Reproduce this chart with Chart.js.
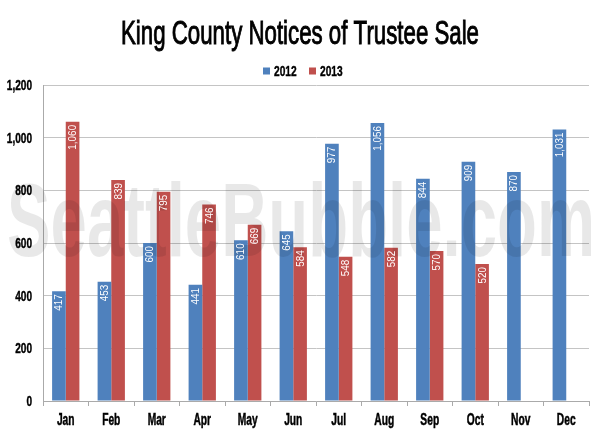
<!DOCTYPE html>
<html>
<head>
<meta charset="utf-8">
<script src="https://cdn.jsdelivr.net/npm/chart.js@4"></script>
<style>
  html, body { margin: 0; padding: 0; background: #fff; }
  #wrap { width: 600px; height: 436px; }
</style>
</head>
<body>
<div id="wrap"><canvas id="chart" width="600" height="436"></canvas></div>
<script>
// Chart data
const months = ['Jan', 'Feb', 'Mar', 'Apr', 'May', 'Jun', 'Jul', 'Aug', 'Sep', 'Oct', 'Nov', 'Dec'];
const seriesNames = ['2012', '2013'];
const values2012 = [417, 453, 600, 441, 610, 645, 977, 1056, 844, 909, 870, 1031];
const values2013 = [1060, 839, 795, 746, 669, 584, 548, 582, 570, 520, null, null];
const yTicks = [0, 200, 400, 600, 800, 1000, 1200];
const colors = ['#4f81bd', '#c0504d'];

const FONT = '"Liberation Sans", Arial, sans-serif';

// Draw text squeezed horizontally to mimic a condensed face
function condensedText(ctx, text, x, y, sx, align, stroke) {
    const w = ctx.measureText(text).width * sx;
    let left = x;
    if (align === 'center') left = x - w / 2;
    if (align === 'right') left = x - w;
    ctx.save();
    ctx.translate(left, y);
    ctx.scale(sx, 1);
    ctx.textAlign = 'left';
    ctx.fillText(text, 0, 0);
    if (stroke) {
        ctx.strokeStyle = ctx.fillStyle;
        ctx.lineWidth = stroke;
        ctx.strokeText(text, 0, 0);
    }
    ctx.restore();
}

// Title, legend and axis labels
const labelsPlugin = {
    id: 'labelsPlugin',
    afterDraw(chart) {
        const ctx = chart.ctx;
        const xs = chart.scales.x, ys = chart.scales.y;
        ctx.save();
        ctx.fillStyle = '#000';
        ctx.textBaseline = 'alphabetic';

        // title
        ctx.font = '34px ' + FONT;
        const title = 'King County Notices of Trustee Sale';
        const tw = ctx.measureText(title).width;
        condensedText(ctx, title, 300, 44, 358 / tw, 'center', 1);

        // legend
        ctx.font = 'bold 15px ' + FONT;
        const legendX = [263, 309];
        seriesNames.forEach((name, i) => {
            ctx.fillStyle = colors[i];
            ctx.fillRect(legendX[i], 67.5, 7, 7);
            ctx.fillStyle = '#000';
            condensedText(ctx, name, legendX[i] + 11, 76, 0.68, 'left', 0.4);
        });

        // y tick labels
        ctx.font = 'bold 14px ' + FONT;
        yTicks.forEach(v => {
            condensedText(ctx, v.toLocaleString('en-US'), 32, ys.getPixelForValue(v) + 5, 0.72, 'right', 0.4);
        });

        // x tick labels
        ctx.font = 'bold 16px ' + FONT;
        months.forEach((m, i) => {
            condensedText(ctx, m, xs.getPixelForValue(i), 425, 0.64, 'center', 0.5);
        });
        ctx.restore();
    }
};

// White rotated value labels inside the top of each bar
const barLabels = {
    id: 'barLabels',
    afterDatasetsDraw(chart) {
        const ctx = chart.ctx;
        ctx.save();
        ctx.fillStyle = '#fff';
        ctx.font = '11px ' + FONT;
        ctx.textBaseline = 'middle';
        chart.data.datasets.forEach((ds, i) => {
            chart.getDatasetMeta(i).data.forEach((bar, j) => {
                const v = ds.data[j];
                if (v == null) return;
                ctx.save();
                ctx.translate(bar.x + 0.5, bar.y + 3);
                ctx.rotate(-Math.PI / 2);
                condensedText(ctx, v.toLocaleString('en-US'), 0, 0, 0.9, 'right');
                ctx.restore();
            });
        });
        ctx.restore();
    }
};

// Faint site watermark over the plot
const watermark = {
    id: 'watermark',
    afterDatasetsDraw(chart) {
        const ctx = chart.ctx;
        ctx.save();
        ctx.fillStyle = 'rgba(0,0,0,0.09)';
        ctx.font = 'bold 104px ' + FONT;
        ctx.textBaseline = 'alphabetic';
        const text = 'SeattleBubble.com';
        const w = ctx.measureText(text).width;
        condensedText(ctx, text, 7, 256, 588 / w, 'left');
        ctx.restore();
    }
};

new Chart(document.getElementById('chart').getContext('2d'), {
    type: 'bar',
    data: {
        labels: months,
        datasets: [
            { label: seriesNames[0], data: values2012, backgroundColor: colors[0] },
            { label: seriesNames[1], data: values2013, backgroundColor: colors[1] }
        ]
    },
    options: {
        responsive: false,
        animation: false,
        layout: { padding: { left: 43, right: 11, top: 85, bottom: 30 } },
        datasets: { bar: { categoryPercentage: 0.6, barPercentage: 1.0 } },
        plugins: {
            title: { display: false },
            legend: { display: false },
            tooltip: { enabled: false }
        },
        scales: {
            x: {
                grid: { display: true, drawOnChartArea: false, drawTicks: true, tickLength: 5, offset: true, color: '#aaa' },
                border: { color: '#aaa' },
                ticks: { display: false }
            },
            y: {
                min: 0,
                max: 1200,
                afterBuildTicks(scale) { scale.ticks = yTicks.map(v => ({ value: v })); },
                grid: { color: '#c4c4c4', drawTicks: false },
                border: { color: '#aaa' },
                ticks: { display: false }
            }
        }
    },
    plugins: [watermark, barLabels, labelsPlugin]
});
</script>
</body>
</html>
